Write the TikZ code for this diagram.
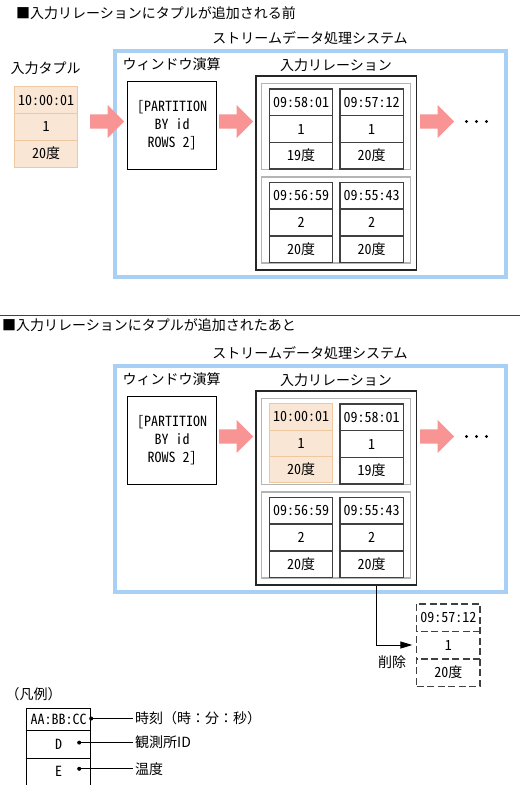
\documentclass[tikz,border=0pt]{standalone}
\usepackage{fontspec}
\setmainfont{Noto Sans CJK JP}
\newfontfamily\hwfont{Noto Sans CJK JP}[RawFeature=+hwid]
\usetikzlibrary{positioning,shapes.multipart,shapes.arrows,arrows.meta}
\definecolor{sysblue}{HTML}{A8D0F4}
\definecolor{arrowpink}{HTML}{F89494}
\definecolor{newfill}{HTML}{FAE6D4}
\definecolor{newline}{HTML}{F0C8A0}
\definecolor{grpgray}{HTML}{B4B4B4}
\definecolor{carddark}{HTML}{404040}
\newcommand{\basefont}{\fontsize{14pt}{17pt}\selectfont}
\newcommand{\rw}[2][25.3]{\rule[\dimexpr 5.1pt-#1pt/2\relax]{0pt}{#1pt}#2}

\begin{document}
\begin{tikzpicture}[
  x=1pt, y=-1pt,
  font=\basefont,
  title/.style={anchor=west},
  sysbox/.style={draw=sysblue, line width=3.5pt,
    minimum width=391pt, minimum height=226pt, inner sep=0pt},
  opbox/.style={draw, line width=0.9pt,
    minimum width=89pt, minimum height=88pt, align=center,
    font=\fontsize{14pt}{18pt}\selectfont\hwfont},
  relbox/.style={draw=black!85, line width=1.1pt,
    minimum width=160.7pt, minimum height=194pt, inner sep=0pt},
  grpbox/.style={draw=grpgray, line width=1.3pt,
    minimum width=149pt, minimum height=86pt, inner sep=0pt},
  tuple/.style={
    rectangle split, rectangle split parts=3,
    draw=carddark, line width=1.4pt,
    minimum width=63.4pt, inner xsep=0pt, inner ysep=0pt,
    anchor=north, font=\basefont\hwfont,
  },
  newtuple/.style={tuple, draw=newline, line width=0.9pt,
    rectangle split part fill={newfill,newfill,newfill}},
  oldtuple/.style={tuple, line width=1.5pt, dash pattern=on 7pt off 3.5pt},
  bigarrow/.style={single arrow, fill=arrowpink, anchor=tail,
    inner xsep=0pt, inner ysep=7pt,
    single arrow head extend=9.5pt, minimum height=34pt},
  delline/.style={-{Triangle[length=12pt,width=7pt]}, line width=1pt, shorten >=3.5pt},
  legline/.style={line width=0.8pt},
  lbl/.style={anchor=west, inner sep=2pt},
]
\useasboundingbox (0,0) rectangle (523,785);

% --- before insertion -----------------------------------------------
\node[title] (ttl1) at (12.5,13) {■入力リレーションにタプルが追加される前};
\node (sysl1) at (310,38) {ストリームデータ処理システム};
\node[sysbox] (sys1) at (310.5,164) {};

\node (inl) at (45.5,68) {入力タプル};
\node[newtuple] (tin) at (46,86)
  {\rw[26]{10:00:01}\nodepart{two}\rw[26]{1}\nodepart{three}\rw[26]{20度}};

\node (winl1) at (171.5,64) {ウィンドウ演算};
\node[opbox] (win1) at (172.2,125.2) {[PARTITION\\BY id\\ROWS 2]};

\node (rell1) at (336,65) {入力リレーション};
\node[relbox] (rel1) at (336.3,173) {};
\node[grpbox] (g11) at (336.2,126.2) {};
\node[grpbox] (g12) at (336.2,220) {};
\node[tuple] (c111) at (301,88.3)
  {\rw{09:58:01}\nodepart{two}\rw{1}\nodepart{three}\rw{19度}};
\node[tuple] (c112) at (371.7,88.3)
  {\rw{09:57:12}\nodepart{two}\rw{1}\nodepart{three}\rw{20度}};
\node[tuple] (c121) at (301,181.7)
  {\rw{09:56:59}\nodepart{two}\rw{2}\nodepart{three}\rw{20度}};
\node[tuple] (c122) at (371.7,181.7)
  {\rw{09:55:43}\nodepart{two}\rw{2}\nodepart{three}\rw{20度}};

\node[bigarrow] (a11) at (90,121.5) {};
\node[bigarrow] (a12) at (219,121.5) {};
\node[bigarrow] (a13) at (420,121.5) {};
\foreach \dx in {12,22,32}
  \fill (a13.tip) ++(\dx,0) circle (1.6pt);

\draw[black!75, line width=1.2pt] (0,315.7) -- (520,315.7);

% --- after insertion ------------------------------------------------
\node[title] (ttl2) at (-1.5,325) {■入力リレーションにタプルが追加されたあと};
\node (sysl2) at (310,353) {ストリームデータ処理システム};
\node[sysbox] (sys2) at (310.5,479) {};

\node (winl2) at (171.5,379) {ウィンドウ演算};
\node[opbox] (win2) at (172.2,440.2) {[PARTITION\\BY id\\ROWS 2]};

\node (rell2) at (336,380) {入力リレーション};
\node[relbox] (rel2) at (336.3,488) {};
\node[grpbox] (g21) at (336.2,441.2) {};
\node[grpbox] (g22) at (336.2,535) {};
\node[newtuple] (c211) at (301,403.3)
  {\rw{10:00:01}\nodepart{two}\rw{1}\nodepart{three}\rw{20度}};
\node[tuple] (c212) at (371.7,403.3)
  {\rw{09:58:01}\nodepart{two}\rw{1}\nodepart{three}\rw{19度}};
\node[tuple] (c221) at (301,496.7)
  {\rw{09:56:59}\nodepart{two}\rw{2}\nodepart{three}\rw{20度}};
\node[tuple] (c222) at (371.7,496.7)
  {\rw{09:55:43}\nodepart{two}\rw{2}\nodepart{three}\rw{20度}};

\node[bigarrow] (a22) at (219,436.5) {};
\node[bigarrow] (a23) at (420,436.5) {};
\foreach \dx in {12,22,32}
  \fill (a23.tip) ++(\dx,0) circle (1.6pt);

% deleted tuple
\node[oldtuple] (del) at (448.3,603)
  {\rw[26]{09:57:12}\nodepart{two}\rw[26]{1}\nodepart{three}\rw[26]{20度}};
\draw[delline] ([xshift=40pt]rel2.south) |- (del.west);
\node (dell) at (392,662) {削除};

% --- legend ---------------------------------------------------------
\node (lgl) at (33.5,694) {（凡例）};
\node[tuple, draw=black, line width=1pt, minimum width=64pt] (lg) at (58.7,707.7)
  {\rw[21.6]{AA:BB:CC}\nodepart{two}\rw[26.7]{D}\nodepart{three}\rw[25.7]{E}};
\node[lbl] (lt) at (133,718.5) {時刻（時：分：秒）};
\node[lbl] (li) at (133,742.6) {観測所ID};
\node[lbl] (le) at (133,768.8) {温度};
\path (lg.east) ++(-12pt,0pt) coordinate (lgx);
\fill (lg.east |- lt.west) circle (2pt);
\fill (lgx |- li.west) circle (2pt);
\fill (lgx |- le.west) circle (2pt);
\draw[legline] (lg.east |- lt.west) -- (lt.west);
\draw[legline] (lgx |- li.west) -- (li.west);
\draw[legline] (lgx |- le.west) -- (le.west);

\end{tikzpicture}
\end{document}
